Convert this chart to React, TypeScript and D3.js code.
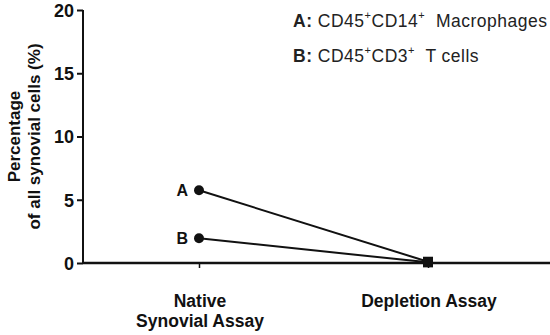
import React, { useEffect, useRef } from 'react';
import * as d3 from 'd3';

const width = 550;
const height = 335;

const conditions = ['Native|Synovial Assay', 'Depletion Assay'];
const seriesLabels = ['A', 'B'];
const macrophages = [5.75, 0.1];
const tCells = [1.95, 0.05];
const yTicks = [0, 5, 10, 15, 20];

const margin = { top: 10, right: 0, bottom: 72, left: 83 };

export default function App() {
  const ref = useRef<SVGSVGElement>(null);

  useEffect(() => {
    const svg = d3.select(ref.current);
    svg.selectAll('*').remove();
    const font = 'Liberation Sans, Arial, sans-serif';

    const y = d3.scaleLinear().domain([0, 20]).range([height - margin.bottom, margin.top]);
    const x = d3.scalePoint().domain(conditions).range([199, 428]);

    const g = svg.append('g').attr('font-family', font);

    // y axis
    const yAxis = g.append('g').attr('transform', `translate(${margin.left},0)`)
      .call(d3.axisLeft(y).tickValues(yTicks).tickSize(6).tickPadding(3).tickFormat(d3.format('d')));
    yAxis.select('.domain').attr('stroke', '#111').attr('stroke-width', 2).attr('d', `M0,${y(20)}V${y(0)}`);
    yAxis.selectAll('.tick line').attr('stroke', '#111').attr('stroke-width', 2);
    yAxis.selectAll('.tick text').attr('font-size', 18).attr('font-weight', 'bold').attr('fill', '#111')
      .attr('font-family', font).attr('dy', '0.36em');

    // x axis
    const xAxis = g.append('g').attr('transform', `translate(0,${y(0)})`)
      .call(d3.axisBottom(x).tickSize(5).tickFormat(() => ''));
    xAxis.select('.domain').attr('stroke', '#111').attr('stroke-width', 2.5).attr('d', `M${margin.left},0H${width}`);
    xAxis.selectAll('.tick line').attr('stroke', '#111').attr('stroke-width', 1.5);

    conditions.forEach(c => {
      const lines = c.split('|');
      const t = g.append('text').attr('text-anchor', 'middle').attr('font-size', 17.5)
        .attr('font-weight', 'bold').attr('fill', '#111');
      lines.forEach((l, i) => {
        t.append('tspan').attr('x', x(c)! + 1).attr('y', 307 + i * 20).text(l);
      });
    });

    // y title
    const yt = g.append('text').attr('transform', `translate(0,${(y(0) + y(20)) / 2}) rotate(-90)`)
      .attr('text-anchor', 'middle').attr('font-size', 17).attr('font-weight', 'bold').attr('fill', '#111');
    yt.append('tspan').attr('x', 0).attr('y', 20).text('Percentage');
    yt.append('tspan').attr('x', 0).attr('y', 40).text('of all synovial cells (%)');

    // series
    const series = [macrophages, tCells];
    const line = d3.line<number>().x((_, i) => x(conditions[i])!).y(d => y(d));
    series.forEach((vals, si) => {
      g.append('path').attr('d', line(vals)).attr('fill', 'none').attr('stroke', '#111').attr('stroke-width', 2);
      g.append('circle').attr('cx', x(conditions[0])!).attr('cy', y(vals[0])).attr('r', 5).attr('fill', '#111');
      g.append('rect').attr('x', x(conditions[1])! - 5).attr('y', y(vals[1]) - 5)
        .attr('width', 10).attr('height', 10).attr('fill', '#111');
      g.append('text').attr('x', x(conditions[0])! - 11).attr('y', y(vals[0]) + 5.5)
        .attr('text-anchor', 'end').attr('font-size', 16).attr('font-weight', 'bold').attr('fill', '#111')
        .text(seriesLabels[si]);
    });

    // legend
    const legend = [
      { key: 'A:', parts: [['CD45', '+'], ['CD14', '+'], ['\u00a0 Macrophages', '']] },
      { key: 'B:', parts: [['CD45', '+'], ['CD3', '+'], ['\u00a0 T cells', '']] },
    ];
    legend.forEach((item, i) => {
      const t = g.append('text').attr('x', 293).attr('y', 27 + i * 35).attr('font-size', 17.5)
        .attr('letter-spacing', 0.5).attr('fill', '#222');
      t.append('tspan').attr('font-weight', 'bold').text(item.key + '\u00a0');
      let shift = 0;
      item.parts.forEach(([base, sup]) => {
        t.append('tspan').attr('dy', shift).text(base);
        shift = 0;
        if (sup) {
          t.append('tspan').attr('dy', -8).attr('font-size', 11).text(sup);
          shift = 8;
        }
      });
    });
  }, []);

  return (
    <svg ref={ref} width={width} height={height}
      style={{ position: 'absolute', left: 0, top: 0, background: '#fff' }} />
  );
}
